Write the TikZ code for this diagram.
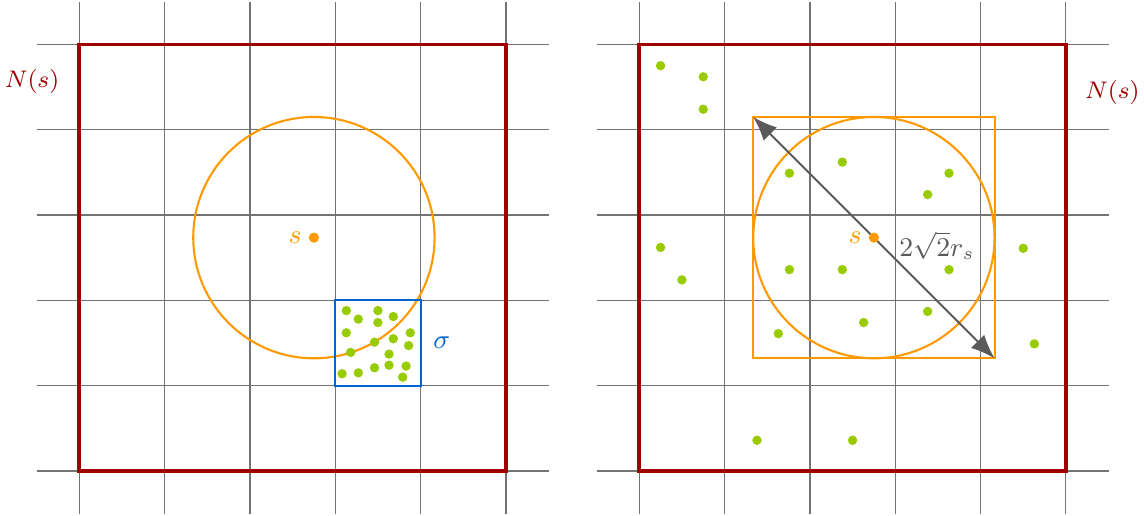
\documentclass[tikz,border=0pt]{standalone}
\usepackage{amsmath, amssymb}
\usepackage{xcolor}
\usepackage{tikz}
\usetikzlibrary{arrows.meta}
\definecolor{nbred}{RGB}{160, 0, 0}
\definecolor{ballor}{RGB}{255, 153, 0}
\definecolor{cellbl}{RGB}{0, 102, 204}
\definecolor{ptgreen}{RGB}{153, 204, 0}
\definecolor{arrgray}{RGB}{90, 90, 90}

\begin{document}
\begin{tikzpicture}[
		gridline/.style={draw=black!55, line width=0.4pt},
		nbhd/.style={draw=nbred, line width=1.2pt},
		ball/.style={draw=ballor, line width=0.7pt},
		cellbox/.style={draw=cellbl, line width=0.7pt},
		pt/.style={circle, fill=ptgreen, inner sep=0pt, minimum size=0.11cm},
		ctr/.style={circle, fill=ballor, inner sep=0pt, minimum size=0.12cm},
		lbl/.style={inner sep=1.5pt, font=\fontsize{9}{11}\selectfont},
		nlbl/.style={inner sep=1.5pt, text=nbred, font=\fontsize{8.3}{10}\selectfont},
		diag/.style={{Latex[length=2.8mm,width=2.2mm]}-{Latex[length=2.8mm,width=2.2mm]}, draw=arrgray, line width=0.6pt}
	]
			\def\cx{2.75}
			\def\cy{2.735}
			\def\rs{1.414}
			
			\useasboundingbox (-0.929, -0.516) rectangle (12.478, 5.520);
			
			% left: the cell sigma
			\foreach \i in {0,...,5} {
				\draw[gridline] (\i, -0.5) -- (\i, 5.5);
				\draw[gridline] (-0.5, \i) -- (5.5, \i);
			}
			\draw[nbhd] (0, 0) rectangle (5, 5);
			\draw[ball] (\cx, \cy) circle (\rs);
			\draw[cellbox] (3, 1) rectangle (4, 2);
			
			\foreach \x/\y [count=\i] in {3.13/1.88, 3.27/1.78, 3.50/1.88, 3.68/1.81, 3.50/1.74, 3.13/1.62,
				3.88/1.62, 3.68/1.55, 3.46/1.51, 3.86/1.47, 3.18/1.39, 3.63/1.37,
				3.08/1.14, 3.27/1.15, 3.46/1.21, 3.63/1.24, 3.83/1.23, 3.79/1.10} {
				\node[pt] (pL\i) at (\x, \y) {};
			}
			
			\node[ctr] (sL) at (\cx, \cy) {};
			\node[lbl, text=ballor, left=0.5pt] (sLlbl) at (sL.west) {$s$};
			\node[lbl, text=cellbl, anchor=west] (sigma) at (4.09, 1.5) {$\sigma$};
			\node[nlbl] (NL) at (-0.554, 4.56) {$N(s)$};
			
			% right: the square round the ball
			\begin{scope}[xshift=6.5625cm]
				\foreach \i in {0,...,5} {
					\draw[gridline] (\i, -0.5) -- (\i, 5.5);
					\draw[gridline] (-0.5, \i) -- (5.5, \i);
				}
				\draw[nbhd] (0, 0) rectangle (5, 5);
				
				\coordinate (tl) at (\cx-\rs, \cy+\rs);
				\coordinate (br) at (\cx+\rs, \cy-\rs);
				\draw[ball] (tl) rectangle (br);
				\draw[ball] (\cx, \cy) circle (\rs);
				
				\foreach \x/\y [count=\i] in {0.25/4.75, 0.75/4.62, 0.75/4.24, 1.76/3.49, 2.38/3.62, 3.63/3.49,
					3.38/3.24, 0.25/2.62, 0.50/2.24, 1.76/2.36, 2.38/2.36, 3.63/2.36,
					4.50/2.61, 3.38/1.87, 2.63/1.74, 1.63/1.61, 4.63/1.49, 1.38/0.36, 2.50/0.36} {
					\node[pt] (pR\i) at (\x, \y) {};
				}
				
				\draw[diag] (tl) -- (br);
				\node[ctr] (sR) at (\cx, \cy) {};
				\node[lbl, text=ballor, left=0.5pt] (sRlbl) at (sR.west) {$s$};
				\node[lbl, text=arrgray] (diam) at (3.49, 2.64) {$2\sqrt{2}r_s$};
				\node[nlbl] (NR) at (5.545, 4.44) {$N(s)$};
			\end{scope}
			
		\end{tikzpicture}
\end{document}
